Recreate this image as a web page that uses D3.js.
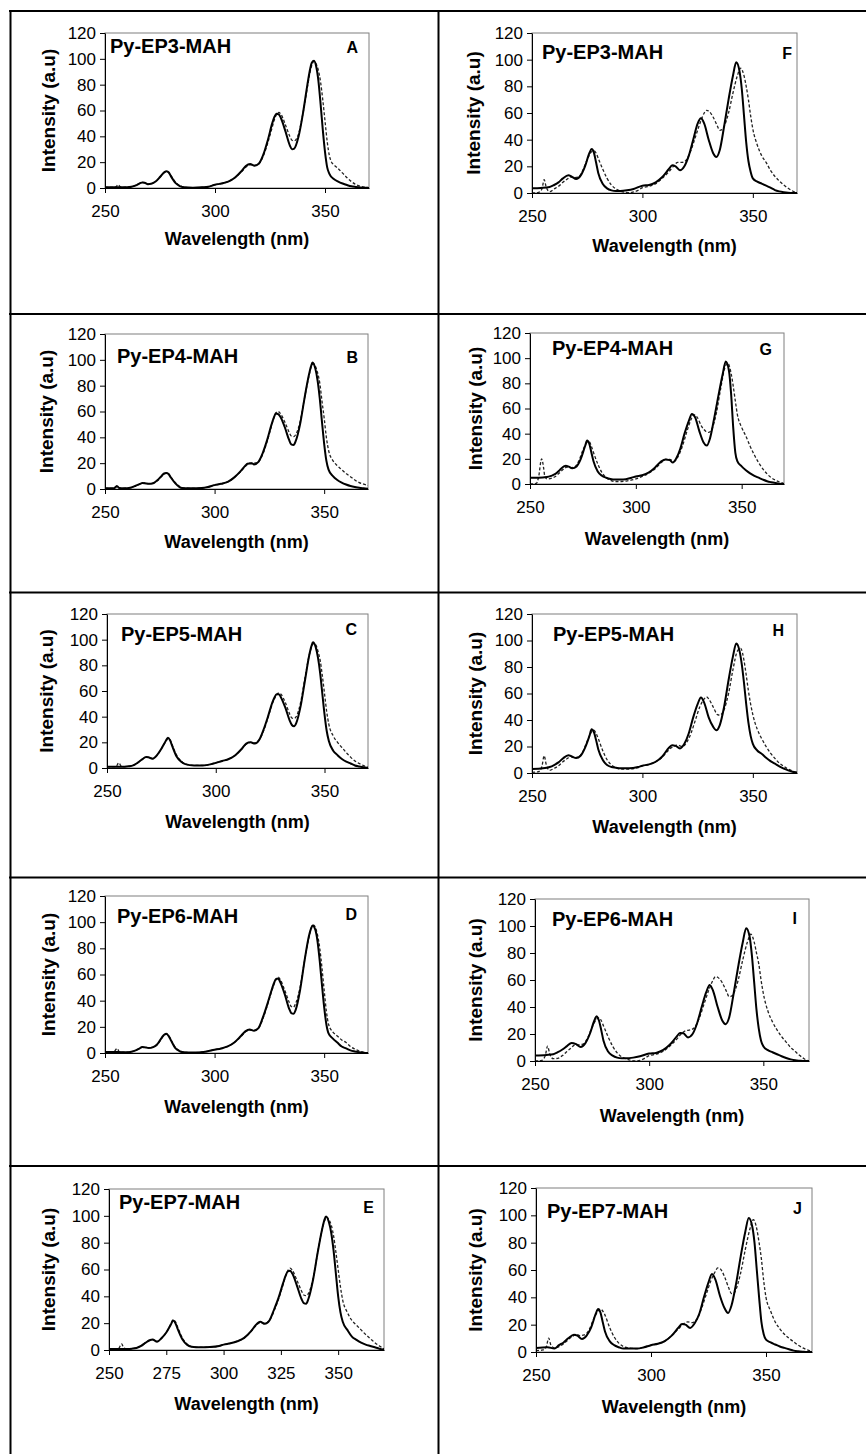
<!DOCTYPE html>
<html>
<head>
<meta charset="utf-8">
<script src="https://cdn.jsdelivr.net/npm/d3@7"></script>
<style>
  html, body { margin: 0; padding: 0; background: #fff; }
  svg { display: block; }
  text { font-family: "Liberation Sans", Arial, sans-serif; fill: #000; }
</style>
</head>
<body>
<svg id="chart" width="866" height="1454"></svg>
<script>
// ---------------- DATA ----------------
const panelLetters = ["A","B","C","D","E","F","G","H","I","J"];
const panelNames = ["Py-EP3-MAH","Py-EP4-MAH","Py-EP5-MAH","Py-EP6-MAH","Py-EP7-MAH",
                    "Py-EP3-MAH","Py-EP4-MAH","Py-EP5-MAH","Py-EP6-MAH","Py-EP7-MAH"];
const xTicksWide = [250, 300, 350];
const xTicksFine = [250, 275, 300, 325, 350];
const yTicks = [0, 20, 40, 60, 80, 100, 120];
const xTitle = "Wavelength (nm)";
const yTitle = "Intensity (a.u)";

const A_solid = [[250,0.5],[254,0.5],[258,0.5],[260,0.6],[262,1],[264,2],[266,3.8],[267,4.3],[268,4.1],[269.5,3],[271,3.3],[273,5],[275,8.5],[277,12.3],[278,13],[279,12],[280,9],[282,4],[284,1.5],[286,0.5],[290,0.2],[294,0.5],[297,1],[300,2.5],[303,3.5],[306,5],[309,8],[312,13],[314,17],[316,18.5],[318,17.3],[320,19],[322,26],[324,37],[326,50],[327,55],[328,57.5],[329,57],[330,54],[332,44],[334,33],[335,30],[336,30.5],[338,40],[340,58],[342,80],[343,90],[344,97],[345,98.5],[346,94],[347,83],[348,65],[349,45],[350,28],[351,16],[352,11],[354,7],[356,5],[358,3.5],[360,2.3],[362,1.3],[364,0.8],[366,0.4],[368,0.2],[370,0]];
const A_dashed = [[250,0.5],[254,0.5],[255,1],[256,2.5],[257,0.8],[258,0.5],[260,0.6],[262,1],[264,2],[266,3.8],[267,4.3],[268,4.1],[269.5,3],[271,3.3],[273,5],[275,8.5],[277,12],[278,12.8],[279,12],[280,9.5],[282,4.5],[284,1.8],[286,0.6],[290,0.2],[294,0.5],[297,1],[300,2.5],[303,3.5],[306,5],[309,8],[312,12.5],[314,16],[316,18],[318,17.5],[320,19],[322,25],[324,35],[326,47],[327,53],[328,57],[329,58.5],[330,57],[332,49],[334,40],[335,37],[336,36.5],[338,42],[340,58],[342,78],[343,88],[344,95],[345,98],[346,96],[347,91],[348,82],[349,68],[350,52],[351,36],[352,25],[353,20],[354,18],[356,15],[358,11.5],[360,8],[362,5],[364,2.7],[366,1.3],[368,0.6],[370,0.3]];

const B_solid = [[250,0.5],[254,0.5],[255.5,2.2],[256.5,0.8],[258,0.5],[260,0.6],[262,1.2],[264,2.5],[266,4],[267,4.6],[268,4.5],[270,4],[272,4.5],[274,7],[276,10.5],[277,12],[278,12.4],[279,11.5],[280,9],[282,4.5],[284,1.5],[286,0.6],[290,0.5],[294,0.7],[297,1.5],[300,3],[303,4],[306,5.5],[309,9],[312,14],[314,18],[315,19.5],[317,20],[318,19],[320,21],[322,28],[324,38],[326,50],[327,55],[328,58.5],[329,58],[330,56],[332,48],[334,38],[335,34.5],[336,34],[337,37],[339,50],[341,70],[343,88],[344,95],[344.7,98],[346,93],[347,84],[348,70],[349,52],[350,35],[351,22],[352,15],[354,10],[356,7],[358,5],[360,3.5],[362,2.3],[364,1.5],[366,1],[368,0.5],[370,0.2]];
const B_dashed = [[250,0.5],[254,0.5],[255.5,2.5],[256.5,0.8],[258,0.5],[260,0.6],[262,1.2],[264,2.5],[266,4],[267,4.6],[268,4.8],[270,4.2],[272,4.5],[274,6.5],[276,10],[277,11.8],[278,12.5],[279,12],[280,9.5],[282,5],[284,2],[286,0.8],[290,0.5],[294,0.7],[297,1.5],[300,3],[303,4],[306,5.5],[309,9],[312,13.5],[314,17.5],[316,20],[318,20],[320,21],[322,27],[324,37],[326,49],[327,55],[328,59],[329,60],[330,58.5],[332,52],[334,44],[335,41],[336,40.5],[337,42],[339,52],[341,70],[343,87],[344,94],[345,97],[346,95],[347,90],[348,82],[349,68],[350,55],[351,40],[352,30],[354,22],[356,18],[358,15],[360,12],[362,9.5],[364,7],[366,5],[368,3.8],[370,2.8]];

const C_solid = [[250,1],[254,1],[258,1],[260,1.3],[262,2],[264,4],[266,6.5],[268,8.5],[269,8.3],[271,7.3],[273,10],[275,15],[277,21],[278,23.5],[279,21.5],[280,17],[282,9],[284,5],[286,3],[290,2],[294,2],[298,3],[300,4],[303,5.5],[306,7],[309,10],[312,15],[314,19],[316,20],[318,19],[320,22],[322,30],[324,40],[326,51],[327,55],[328,57.5],[329,57.5],[330,55],[332,47],[334,37],[335,33.5],[336,32.5],[337,35],[339,48],[341,68],[343,88],[344,95],[344.7,98],[346,94],[347,86],[348,74],[349,58],[350,42],[351,29],[352,21],[354,13.5],[356,10],[358,7],[360,5],[362,3.5],[364,2],[366,1.2],[368,0.5],[370,0]];
const C_dashed = [[250,1],[254,1],[255.5,4],[256.5,1.5],[258,1],[260,1.3],[262,2],[264,4],[266,6.5],[268,8.5],[269,8.3],[271,7.3],[273,10],[275,15],[277,20.5],[278,23],[279,22],[280,18],[282,10],[284,5.5],[286,3],[290,2],[294,2],[298,3],[300,4],[303,5.5],[306,7],[309,10],[312,15],[314,18.5],[316,20],[318,19.5],[320,22],[322,29],[324,39],[326,50],[327,54],[328,57],[329,58.5],[330,57.5],[332,51],[334,42],[335,39],[336,38.5],[337,40],[339,51],[341,70],[343,88],[344,94],[345,97],[346,96],[347,91],[348,84],[349,72],[350,58],[351,44],[352,34],[354,25],[356,20],[358,16],[360,12],[362,8.5],[364,5.5],[366,3.5],[368,1.8],[370,0.5]];

const D_solid = [[250,0.8],[254,0.8],[258,0.6],[260,0.6],[262,1],[264,2],[266,3.8],[267,4.6],[268,4.4],[270,3.8],[272,4.5],[274,7],[276,12],[277,14],[278,14.8],[279,13],[280,10],[282,4],[284,1.5],[286,0.5],[290,0.3],[295,0.8],[300,2.5],[303,3.5],[306,5],[309,8],[312,13],[314,16.5],[316,18],[318,17],[320,19],[322,27],[324,37],[326,48],[327,53],[328,56.5],[329,57],[330,54],[332,45],[334,34],[335,30.5],[336,30],[337,33],[339,48],[341,70],[343,89],[344,95],[344.7,97.5],[346,94],[347,85],[348,70],[349,52],[350,35],[351,22],[352,15],[354,11],[356,8],[358,5],[360,3.5],[362,2],[364,1.2],[366,0.6],[368,0.2],[370,0]];
const D_dashed = [[250,0.8],[254,0.8],[255.5,3.5],[256.5,1],[258,0.6],[260,0.6],[262,1],[264,2],[266,3.8],[267,4.6],[268,4.6],[270,4],[272,4.5],[274,6.5],[276,11.5],[277,13.5],[278,14.5],[279,13.5],[280,10.5],[282,4.5],[284,1.8],[286,0.6],[290,0.3],[295,0.8],[300,2.5],[303,3.5],[306,5],[309,8],[312,12.5],[314,16],[316,17.5],[318,17.5],[320,19],[322,26],[324,36],[326,47],[327,52],[328,56],[329,58],[330,56],[332,48],[334,39],[335,35.5],[336,35],[337,38],[339,50],[341,70],[343,88],[344,95],[345,98],[346,96],[347,90],[348,80],[349,65],[350,48],[351,32],[352,22],[354,16],[356,13],[358,10],[360,8],[362,5],[364,3],[366,1.5],[368,0.5],[370,0.2]];

const E_solid = [[250,0.8],[254,0.8],[258,0.8],[260,1],[262,1.5],[264,3],[266,5.5],[268,7.5],[269,7.8],[271,6.2],[273,9],[275,13],[277,19],[278,22],[279,20],[280,15.5],[282,8],[284,4],[286,2.5],[290,2],[294,2.2],[298,3],[300,4],[303,5],[306,6.5],[309,9],[312,14],[314,18.5],[316,21],[318,19.5],[320,22],[322,30],[324,39],[326,50],[327,55],[328,58.5],[329,59],[330,57],[332,48],[334,38],[335,35],[336,34.5],[337,38],[339,52],[341,72],[343,90],[344,97],[344.7,99.5],[346,95],[347,87],[348,74],[349,57],[350,40],[351,28],[352,21],[354,15],[356,10],[358,7.5],[360,5.5],[362,4],[364,3],[366,2],[368,1],[370,0.3]];
const E_dashed = [[250,0.8],[254,0.8],[255.5,4.5],[256.5,1.5],[258,0.8],[260,1],[262,1.5],[264,3],[266,5.5],[268,7.5],[269,7.8],[271,6.5],[273,9],[275,13],[277,19.5],[278,22.5],[279,21],[280,17],[282,9],[284,4.5],[286,2.5],[290,2],[294,2.2],[298,3],[300,4],[303,5],[306,6.5],[309,9],[312,14],[314,18],[316,20.5],[318,20],[320,22],[322,29],[324,38],[326,49],[327,55],[328,59],[329,61],[330,59.5],[332,52],[334,44],[335,41],[336,40.5],[337,42],[339,53],[341,72],[343,90],[344,96],[345,99],[346,97],[347,93],[348,85],[349,73],[350,60],[351,47],[352,37],[354,28],[356,22],[358,18.5],[360,15],[362,11.5],[364,8.5],[366,5.5],[368,3],[370,1]];

const F_solid = [[250,3.5],[254,3.8],[258,4.5],[260,6],[262,8],[264,11],[266.5,13.3],[268,12.3],[270,10.5],[272,13],[274,20],[276,30],[277,33],[278,30.5],[279,23],[280,15],[282,7],[284,3.5],[286,2],[288,1.5],[290,1.5],[293,2],[296,3],[300,5.5],[303,6],[306,8],[309,12],[312,18],[313.5,20.8],[315,20],[317,17],[319,20],[321,28],[323,40],[325,52],[326.5,56],[328,52],[330,40],[332,30],[333.5,27],[335,32],[337,50],[339,70],[341,88],[342.5,98],[344,91],[345,78],[346,58],[347,38],[348,24],[349,16],[350,11],[352,8.5],[354,7],[356,5.5],[358,4],[360,2.2],[362,1.2],[364,0.6],[366,0.2],[368,0],[370,0]];
const F_dashed = [[250,0],[253,0.5],[254.5,3],[255.5,10],[256.5,4],[258,1],[260,3],[262,5],[264,8],[266,10.5],[267.5,12],[269,11.5],[271,12],[273,17],[275,25],[277,31],[278,31.6],[279,30],[280,26],[282,18],[284,11],[286,6],[288,3],[290,1.5],[292,0.5],[294.5,0.2],[296,0.8],[298,2],[300,4],[303,5],[306,7],[309,11],[312,16],[314,20],[316,23],[318,23],[320,25],[322,32],[324,42],[326,52],[328,60],[329,62],[330,61.5],[332,57],[334,50],[335,47],[336,47.5],[337,50],[339,60],[341,75],[343,88],[344.5,93.6],[346,88],[347,80],[348,70],[349,58],[350,48],[352,36],[354,28],[356,23],[358,17],[360,12.5],[362,9],[364,6],[366,3.5],[368,1.5],[370,0]];

const G_solid = [[250,5],[254,5],[258,5.5],[260,6.5],[262,8],[264,11],[266,14],[267,14.6],[268,14],[270,12.5],[272,14],[274,20],[276,30],[277,34.5],[278,32],[279,25],[280,18],[282,10],[284,6.5],[286,5],[288,4],[290,3.5],[294,3.5],[298,5],[300,6],[303,7],[306,9],[309,13],[312,18],[314,19.5],[316,19],[317.5,17],[319,20],[321,28],[323,40],[325,50],[326.5,55.7],[328,53],[330,42],[332,33],[333.5,30.5],[335,36],[337,52],[339,70],[341,87],[342.5,97.4],[344,90],[345,72],[346,45],[347,25],[348,18],[350,14],[352,11],[354,8.5],[356,6.5],[358,5],[360,3.5],[362,2.2],[364,1.4],[366,0.8],[368,0.3],[370,0]];
const G_dashed = [[250,0],[253,0.5],[254,5],[255.5,20],[256.5,12],[257,6],[258,4],[260,4.5],[262,6],[264,9],[266,12],[267.5,13.5],[269,13],[271,13.5],[273,18],[275,27],[277,33],[278,33.5],[279,30],[280,25],[282,16],[284,9],[286,5],[288,3],[290,2],[293,2],[296,2.5],[300,4],[303,6],[306,8.5],[309,12],[312,17],[314,19.5],[316,19.5],[318,18],[320,22],[322,30],[324,41],[326,51],[327.5,55],[329,53],[331,46],[333,42],[334.5,41],[336,44],[338,56],[340,75],[342,92],[343.4,96],[345,88],[346,78],[347,66],[348,55],[350,45],[352,38],[354,30],[356,23],[358,17],[360,12],[362,8],[364,5],[366,3],[368,1.5],[370,0.3]];

const H_solid = [[250,3],[255,3.5],[258,4.5],[260,6],[262,8],[264,11],[266.5,13.4],[268,12.5],[270,11.3],[272,13],[274,19],[276,28],[277,33],[278,31],[279,25],[280,18],[282,10],[284,6],[286,4.5],[288,4],[290,3.5],[294,3.5],[298,4.5],[300,5.5],[303,6.5],[306,8.5],[309,12.5],[312,19],[313.5,21],[315,20.5],[317,18.5],[319,22],[321,30],[323,42],[325,52],[326.5,57],[328,53],[330,42],[332,35],[333.5,32.3],[335,36],[337,50],[339,70],[341,88],[342.5,97.8],[344,92],[345,82],[346,68],[347,52],[348,38],[349,28],[350,22],[352,17],[354,14.5],[356,11.5],[358,9],[360,7],[362,5],[364,3.3],[366,2],[368,1],[370,0.3]];
const H_dashed = [[250,0.5],[253,1],[254.5,5],[255.5,13],[256.5,6],[258,2],[260,3.5],[262,5.5],[264,8.5],[266,11],[267.5,12.5],[269,11.5],[271,12],[273,16],[275,24],[277,31],[278,32.3],[279,30],[280,26],[282,17],[284,10],[286,6],[288,4],[290,3],[294,3],[298,4],[300,5.5],[303,6.5],[306,8.5],[309,12],[312,17.5],[314,20],[316,21],[318,20],[320,23],[322,30],[324,40],[326,50],[328,56],[329,57.5],[330,56],[332,50],[334,44],[335,43.6],[337,48],[339,60],[341,78],[343,92],[344.5,94],[346,85],[347,74],[348,62],[350,44],[352,33],[354,26],[356,20],[358,15],[360,11],[362,7.5],[364,5],[366,3],[368,1.5],[370,0.3]];

const I_solid = [[250,4],[255,4.5],[258,5],[260,6.5],[262,8.5],[264,11],[266,13.4],[268,12.5],[270,10.4],[272,13],[274,20],[276,30],[277,33.2],[278,30],[279,23],[280,15],[282,7],[284,4],[286,2.5],[288,2],[290,2],[293,2.5],[296,3.5],[300,5.5],[303,6],[306,8],[309,12],[312,18],[313.5,20.8],[315,20.5],[317,17.5],[319,20],[321,28],[323,40],[325,51],[326.5,56.3],[328,52],[330,40],[332,30],[333.5,27.3],[335,32],[337,50],[339,70],[341,88],[342.5,98.4],[344,92],[345,78],[346,58],[347,38],[348,24],[349,15],[350,11],[352,8],[354,6.5],[356,5],[358,3.5],[360,2.2],[362,1.2],[364,0.5],[366,0.2],[368,0],[370,0]];
const I_dashed = [[250,0],[253,0.5],[254.5,4],[255.5,11],[256.5,5],[258,1.7],[260,2],[262,4],[264,7],[266,10],[267.5,12],[269,12],[271,12.5],[273,17],[275,25],[277,31],[278,32],[279,30],[280,26],[282,18],[284,11],[286,6],[288,3],[290,1.5],[292,0.5],[294,0],[296,0.5],[298,2],[300,4],[303,5],[306,7],[309,11],[312,16],[314,20],[316,22.5],[318,23],[320,25],[322,32],[324,42],[326,52],[328,60],[329,62.5],[330,62],[332,58],[334,51],[335,47.6],[336,48],[337,50],[339,60],[341,75],[343,88],[344.5,94],[346,88],[347,80],[348,72],[349,60],[350,50],[352,37],[354,29],[356,23],[358,18],[360,14],[362,10],[364,7],[366,4],[368,1.5],[370,0]];

const J_solid = [[250,3],[255,3.5],[258,2.5],[260,5],[262,7],[264,10],[266.5,12.7],[268,12],[270,9.5],[272,12],[274,18],[276,28],[277,31.5],[278,29],[279,22],[280,15],[282,8],[284,5],[286,3.5],[288,2.5],[290,2.5],[294,2.5],[297,3.5],[300,5],[303,6],[306,8],[309,12],[312,18],[313.5,20.5],[315,20],[317,17.6],[319,21],[321,28],[323,40],[325,51],[326.5,57],[328,53],[330,41],[332,32],[333.5,28.5],[335,34],[337,50],[339,70],[341,88],[342.5,98],[344,92],[345,80],[346,60],[347,40],[348,22],[349,13],[350,9],[352,7],[354,5.5],[356,4],[358,3],[360,2],[362,1],[364,0.5],[366,0.2],[368,0],[370,0]];
const J_dashed = [[250,1],[253,1.5],[254.5,4],[255.5,10.2],[256.5,5],[258,3],[260,4],[262,6],[264,9],[266,11.5],[267.5,13],[269,12],[271,12.5],[273,16],[275,24],[277,30],[278,31.5],[279,30],[280,27],[282,18],[284,11],[286,6.5],[288,4],[290,3],[294,2.5],[297,3.5],[300,5],[303,6],[306,8],[309,12],[312,17],[314,20.5],[316,22],[318,21.5],[320,24],[322,32],[324,42],[326,52],[328,59],[329,61.5],[330,61],[332,55],[334,46],[335,42.7],[336,43],[337,46],[339,58],[341,75],[343,90],[344.5,96.8],[346,90],[347,80],[348,68],[349,52],[350,40],[352,30],[354,22],[356,17],[358,13],[360,10],[362,7.5],[364,5],[366,3],[368,1.5],[370,0.3]];

const solidSeries = [A_solid,B_solid,C_solid,D_solid,E_solid,F_solid,G_solid,H_solid,I_solid,J_solid];
const dashedSeries = [A_dashed,B_dashed,C_dashed,D_dashed,E_dashed,F_dashed,G_dashed,H_dashed,I_dashed,J_dashed];
const panelXTicks = [xTicksWide,xTicksWide,xTicksWide,xTicksWide,xTicksFine,
                     xTicksWide,xTicksWide,xTicksWide,xTicksWide,xTicksWide];

// ---------------- LAYOUT ----------------
const layout = [
  {l:105,t:33, r:369,b:188,  nx:110,ny:53,   lx:358,ly:53,   xtY:245,  ytX:48},
  {l:105,t:334,r:368,b:489,  nx:117,ny:363,  lx:358,ly:363,  xtY:548,  ytX:46},
  {l:107,t:614,r:368,b:768,  nx:121,ny:641,  lx:357,ly:635,  xtY:828,  ytX:46},
  {l:105,t:896,r:368,b:1053, nx:117,ny:923,  lx:357,ly:920,  xtY:1113, ytX:48},
  {l:109,t:1189,r:384,b:1350,nx:119,ny:1209, lx:374,ly:1213, xtY:1410, ytX:48},
  {l:532,t:33, r:797,b:193,  nx:542,ny:59,   lx:792,ly:59,   xtY:252,  ytX:473},
  {l:530,t:333,r:784,b:484,  nx:552,ny:355,  lx:772,ly:355,  xtY:545,  ytX:475},
  {l:532,t:614,r:797,b:773,  nx:553,ny:641,  lx:784,ly:636,  xtY:833,  ytX:475},
  {l:535,t:899,r:809,b:1061, nx:552,ny:926,  lx:797,ly:924,  xtY:1122, ytX:475},
  {l:536,t:1188,r:812,b:1352,nx:547,ny:1218, lx:802,ly:1214, xtY:1413, ytX:475}
];

const svg = d3.select("#chart");

// table grid lines
const grid = svg.append("g").attr("stroke", "#000").attr("stroke-width", 2);
const rowLines = [11, 314, 592.5, 877.5, 1166];
rowLines.forEach(y => grid.append("line").attr("x1", 9).attr("x2", 866).attr("y1", y).attr("y2", y));
grid.append("line").attr("x1", 10.5).attr("x2", 10.5).attr("y1", 10).attr("y2", 1454);
grid.append("line").attr("x1", 438.5).attr("x2", 438.5).attr("y1", 10).attr("y2", 1454);

panelLetters.forEach((letter, i) => {
  const L = layout[i];
  const x = d3.scaleLinear().domain([250, 370]).range([L.l, L.r]);
  const y = d3.scaleLinear().domain([0, 120]).range([L.b, L.t]);
  const g = svg.append("g");

  g.append("rect").attr("x", L.l).attr("y", L.t).attr("width", L.r - L.l).attr("height", L.b - L.t)
    .attr("fill", "none").attr("stroke", "#7f7f7f").attr("stroke-width", 1);

  const cid = "clip" + letter;
  svg.append("clipPath").attr("id", cid).append("rect")
    .attr("x", L.l).attr("y", L.t - 2).attr("width", L.r - L.l).attr("height", L.b - L.t + 2);

  const line = d3.line().x(d => x(d[0])).y(d => y(d[1])).curve(d3.curveMonotoneX);

  g.append("path").datum(dashedSeries[i]).attr("d", line).attr("clip-path", `url(#${cid})`)
    .attr("fill", "none").attr("stroke", "#222").attr("stroke-width", 1.3)
    .attr("stroke-dasharray", "3,2");
  g.append("path").datum(solidSeries[i]).attr("d", line).attr("clip-path", `url(#${cid})`)
    .attr("fill", "none").attr("stroke", "#000").attr("stroke-width", 2);

  const yAxis = d3.axisLeft(y).tickValues(yTicks).tickSize(5).tickSizeOuter(0).tickPadding(4);
  const yg = g.append("g").attr("transform", `translate(${L.l},0)`).call(yAxis);
  const xAxis = d3.axisBottom(x).tickValues(panelXTicks[i]).tickSize(5).tickSizeOuter(0).tickPadding(4);
  const xg = g.append("g").attr("transform", `translate(0,${L.b})`).call(xAxis);
  [yg, xg].forEach(ax => {
    ax.select(".domain").attr("stroke", "#000").attr("stroke-width", 1);
    ax.selectAll(".tick line").attr("stroke", "#000").attr("stroke-width", 1);
    ax.selectAll(".tick text").attr("font-size", 17).attr("font-family", "Liberation Sans, Arial, sans-serif").attr("fill", "#000");
  });
  xg.selectAll(".tick text").attr("dy", null).attr("y", 29);

  g.append("text").attr("x", (L.l + L.r) / 2).attr("y", L.xtY)
    .attr("text-anchor", "middle").attr("font-weight", "bold").attr("font-size", 18).text(xTitle);
  g.append("text")
    .attr("transform", `translate(${L.ytX},${(L.t + L.b) / 2}) rotate(-90)`)
    .attr("text-anchor", "middle").attr("dy", "0.35em")
    .attr("font-weight", "bold").attr("font-size", 19).text(yTitle);

  g.append("text").attr("x", L.nx).attr("y", L.ny).attr("font-weight", "bold").attr("font-size", 20).text(panelNames[i]);
  g.append("text").attr("x", L.lx).attr("y", L.ly).attr("text-anchor", "end")
    .attr("font-weight", "bold").attr("font-size", 16).text(letter);
});
</script>
</body>
</html>
